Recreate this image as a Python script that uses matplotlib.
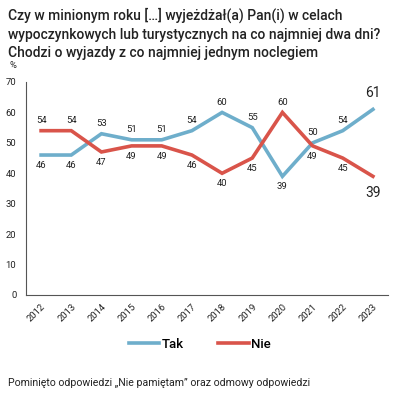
import matplotlib
matplotlib.use("Agg")
import matplotlib.pyplot as plt
from matplotlib.lines import Line2D

years = ["2012", "2013", "2014", "2015", "2016", "2017", "2018", "2019", "2020", "2021", "2022", "2023"]
tak = [46, 46, 53, 51, 51, 54, 60, 55, 39, 50, 54, 61]
nie = [54, 54, 47, 49, 49, 46, 40, 45, 60, 49, 45, 39]
yticks = [0, 10, 20, 30, 40, 50, 60, 70]

title = ("Czy w minionym roku […] wyjeżdżał(a) Pan(i) w celach\n"
         "wypoczynkowych lub turystycznych na co najmniej dwa dni?\n"
         "Chodzi o wyjazdy z co najmniej jednym noclegiem")
note = "Pominięto odpowiedzi „Nie pamiętam” oraz odmowy odpowiedzi"

blue = "#6eaecb"
red = "#d9544a"

plt.rcParams['font.family'] = ['Roboto', 'DejaVu Sans']

W, H = 397, 397
fig = plt.figure(figsize=(W / 100, H / 100), dpi=100)
ax = fig.add_axes([26 / W, 1 - 295 / H, (388 - 26) / W, (295 - 82) / H])

x = list(range(len(years)))
ax.plot(x, tak, color=blue, lw=2.6, solid_joinstyle='miter')
ax.plot(x, nie, color=red, lw=2.6, solid_joinstyle='miter')

for i in x:
    last = i == len(x) - 1
    fs = 10 if last else 6.8
    off = 12 if last else 7.5
    for v, other in ((tak[i], nie[i]), (nie[i], tak[i])):
        up = v >= other
        ax.annotate(str(v), (i, v), xytext=(0, off if up else -off), textcoords='offset points',
                    ha='center', va='center', fontsize=fs, color='#222222')

ax.set_xlim(-0.5, len(x) - 0.5)
ax.set_ylim(0, 70)
ax.set_yticks(yticks)
ax.set_xticks(x)
ax.set_xticklabels(years, rotation=45, ha='right', rotation_mode='anchor')
ax.tick_params(axis='both', length=0, labelsize=6.8, colors='#222222')
ax.tick_params(axis='y', pad=7)
ax.tick_params(axis='x', pad=5)
for s in ['top', 'right']:
    ax.spines[s].set_visible(False)
for s in ['left', 'bottom']:
    ax.spines[s].set_color('#555555')
    ax.spines[s].set_linewidth(0.8)

fig.text(13 / W, 1 - 66 / H, "%", fontsize=6.8, ha='center', va='center', color='#222222')
fig.text(8 / W, 1 - 8 / H, title, fontsize=10, fontweight='medium', ha='left', va='top',
         linespacing=1.38, color='#222222')

handles = [Line2D([], [], color=blue, lw=2.6), Line2D([], [], color=red, lw=2.6)]
fig.legend(handles, ["Tak", "Nie"], loc='center', bbox_to_anchor=(200 / W, 1 - 344 / H),
           ncol=2, frameon=False, handlelength=2.3, handletextpad=0.2, columnspacing=2.6,
           prop={'size': 9.5, 'weight': 'medium'})

fig.text(8 / W, 1 - 383 / H, note, fontsize=7.6, ha='left', va='center', color='#222222')

fig.savefig("out.png", dpi=100, facecolor='white')
